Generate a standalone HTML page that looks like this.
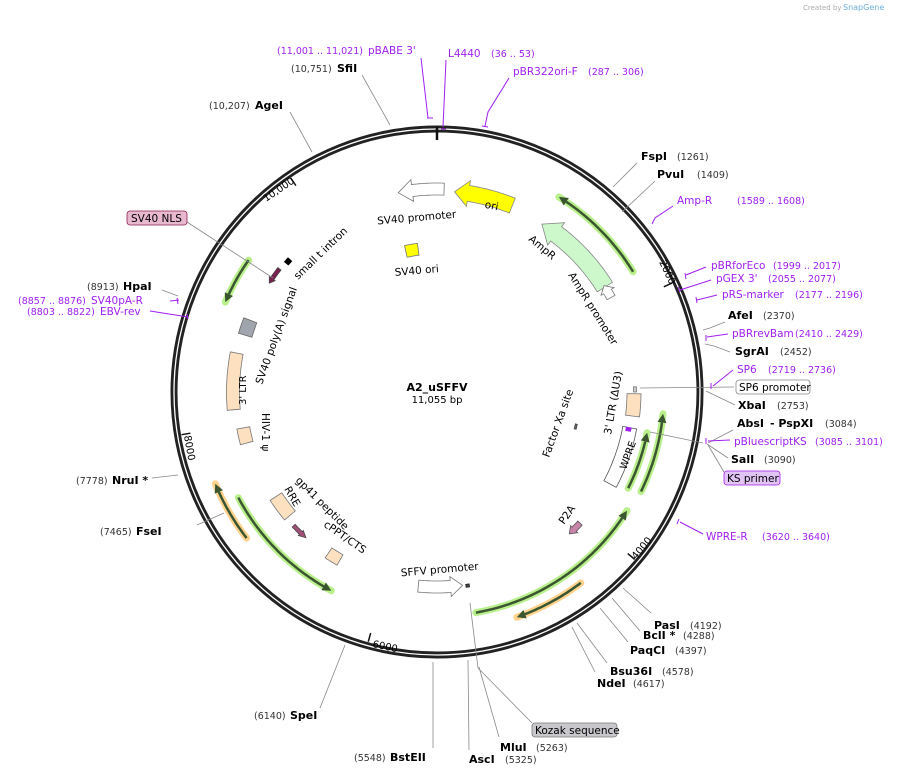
<!DOCTYPE html>
<html><head><meta charset="utf-8"><style>
html,body{margin:0;padding:0;background:#fff}
svg{display:block;font-family:"DejaVu Sans","Liberation Sans",sans-serif}
.b{font-weight:bold;font-size:11px;fill:#000}
.n{font-size:9.5px;fill:#333}
.p{font-size:10.5px;fill:#a020f0}
.pn{font-size:9.5px;fill:#a020f0}
.f{font-size:10.5px;fill:#000}
.ln{stroke:#888;stroke-width:0.8;fill:none}
.lp{stroke:#a020f0;stroke-width:1;fill:none}
</style></head><body>
<svg id="s" width="901" height="776" viewBox="0 0 901 776" xmlns="http://www.w3.org/2000/svg">
<text x="803" y="10" style="font-size:7px;fill:#aaa">Created by</text><text x="843" y="10" style="font-size:8px;fill:#6ab0d8">SnapGene</text>
<g id="shapes"></g>
<circle cx="437" cy="392" r="263" fill="none" stroke="#222" stroke-width="7"/>
<circle cx="437" cy="392" r="263" fill="none" stroke="#fff" stroke-width="1.3"/>
<line x1="437" y1="127" x2="437" y2="140" stroke="#111" stroke-width="2.5"/>
<g id="ticks"></g>
<text x="659" y="262" class="f" transform="rotate(65 659 262)" style="font-size:10px">2000</text>
<text x="636" y="560" class="f" transform="rotate(-50 636 560)" style="font-size:10px">4000</text>
<text x="372" y="647" class="f" transform="rotate(12 372 647)" style="font-size:10px">6000</text>
<text x="184" y="436" class="f" transform="rotate(80 184 436)" style="font-size:10px">8000</text>
<text x="266" y="202" class="f" transform="rotate(-34 266 202)" style="font-size:10px">10,000</text>

<g class="ln">
<line x1="362" y1="75" x2="390" y2="125"/>
<line x1="290" y1="112" x2="312" y2="152"/>
<line x1="637" y1="163" x2="613" y2="187"/>
<line x1="655" y1="181" x2="622" y2="212"/>
<polyline points="725,322 710,328 703,330"/>
<polyline points="730,352 714,346 705,344"/>
<line x1="734" y1="387" x2="640" y2="388"/>
<line x1="735" y1="405" x2="706" y2="391"/>
<line x1="733" y1="430" x2="708" y2="443"/>
<line x1="728" y1="458" x2="707" y2="444"/>
<line x1="724" y1="472" x2="708" y2="445"/>
<line x1="703" y1="443" x2="650" y2="432"/>
<line x1="651" y1="613" x2="623" y2="588"/>
<line x1="640" y1="631" x2="612" y2="598"/>
<line x1="628" y1="642" x2="600" y2="608"/>
<line x1="607" y1="663" x2="577" y2="623"/>
<line x1="595" y1="672" x2="572" y2="627"/>
<polyline points="470,603 478,668 532,723"/>
<line x1="479" y1="667" x2="499" y2="737"/>
<line x1="468" y1="660" x2="469" y2="750"/>
<line x1="433" y1="662" x2="433" y2="748"/>
<line x1="345" y1="645" x2="320" y2="708"/>
<line x1="197" y1="525" x2="224" y2="513"/>
<line x1="152" y1="478" x2="178" y2="475"/>
<line x1="162" y1="290" x2="178" y2="296"/>
<line x1="187" y1="222" x2="273" y2="278"/>
</g>
<g class="lp">
<polyline points="421,58 428,118 430,118"/><line x1="427" y1="118" x2="433" y2="118"/>
<line x1="446" y1="60" x2="443" y2="127"/><line x1="441" y1="129" x2="446" y2="129"/>
<polyline points="509,78 488,112 485,126"/><line x1="482" y1="126" x2="488" y2="127"/>
<polyline points="673,206 655,218 652,224"/>
<line x1="706" y1="267" x2="686" y2="275"/><line x1="685" y1="273" x2="686" y2="279"/>
<line x1="711" y1="280" x2="680" y2="290"/><line x1="678" y1="287" x2="680" y2="292"/>
<line x1="717" y1="295" x2="697" y2="300"/><line x1="696" y1="297" x2="697" y2="303"/>
<line x1="728" y1="334" x2="707" y2="337"/><line x1="706" y1="335" x2="706" y2="341"/>
<line x1="733" y1="370" x2="713" y2="386"/><line x1="711" y1="383" x2="711" y2="389"/>
<line x1="730" y1="440" x2="708" y2="441"/><line x1="706" y1="438" x2="706" y2="444"/>
<line x1="703" y1="534" x2="680" y2="522"/><line x1="679" y1="519" x2="677" y2="524"/>
<line x1="170" y1="301" x2="179" y2="300"/><line x1="177" y1="298" x2="178" y2="304"/>
<line x1="150" y1="311" x2="188" y2="317"/><line x1="187" y1="314" x2="188" y2="319"/>
</g>

<text x="277" y="54" class="pn">(11,001 .. 11,021)</text><text x="368" y="54" class="p">pBABE 3'</text>
<text x="448" y="57" class="p">L4440</text><text x="491" y="57" class="pn">(36 .. 53)</text>
<text x="513" y="75" class="p">pBR322ori-F</text><text x="588" y="75" class="pn">(287 .. 306)</text>
<text x="291" y="72" class="n">(10,751)</text><text x="337" y="72" class="b">SfiI</text>
<text x="209" y="109" class="n">(10,207)</text><text x="255" y="109" class="b">AgeI</text>
<rect x="127" y="211" width="60" height="14" rx="3" fill="#e8b8cf" stroke="#8a2050" stroke-width="0.8"/>
<text x="131" y="222" style="font-size:10.5px">SV40 NLS</text>
<text x="87" y="290" class="n">(8913)</text><text x="123" y="290" class="b">HpaI</text>
<text x="18" y="304" class="pn">(8857 .. 8876)</text><text x="91" y="304" class="p">SV40pA-R</text>
<text x="27" y="315" class="pn">(8803 .. 8822)</text><text x="100" y="315" class="p">EBV-rev</text>
<text x="76" y="484" class="n">(7778)</text><text x="112" y="484" class="b">NruI *</text>
<text x="100" y="535" class="n">(7465)</text><text x="136" y="535" class="b">FseI</text>
<text x="254" y="719" class="n">(6140)</text><text x="290" y="719" class="b">SpeI</text>
<text x="354" y="761" class="n">(5548)</text><text x="390" y="761" class="b">BstEII</text>
<text x="469" y="763" class="b">AscI</text><text x="505" y="763" class="n">(5325)</text>
<text x="500" y="751" class="b">MluI</text><text x="536" y="751" class="n">(5263)</text>
<rect x="532" y="723" width="85" height="14" rx="3" fill="#c8c8cc" stroke="#777" stroke-width="0.8"/>
<text x="535" y="734" style="font-size:10.5px">Kozak sequence</text>
<text x="597" y="687" class="b">NdeI</text><text x="633" y="687" class="n">(4617)</text>
<text x="610" y="675" class="b">Bsu36I</text><text x="662" y="675" class="n">(4578)</text>
<text x="630" y="654" class="b">PaqCI</text><text x="675" y="654" class="n">(4397)</text>
<text x="643" y="639" class="b">BclI *</text><text x="683" y="639" class="n">(4288)</text>
<text x="654" y="629" class="b">PasI</text><text x="690" y="629" class="n">(4192)</text>
<text x="706" y="540" class="p">WPRE-R</text><text x="762" y="540" class="pn">(3620 .. 3640)</text>
<rect x="724" y="471" width="56" height="14" rx="3" fill="#e2c4f4" stroke="#a020f0" stroke-width="0.8"/>
<text x="727" y="482" style="font-size:10.5px">KS primer</text>
<text x="731" y="463" class="b">SalI</text><text x="764" y="463" class="n">(3090)</text>
<text x="734" y="445" class="p">pBluescriptKS</text><text x="815" y="445" class="pn">(3085 .. 3101)</text>
<text x="737" y="427" class="b">AbsI</text><text x="770" y="427" class="b">- PspXI</text><text x="825" y="427" class="n">(3084)</text>
<text x="738" y="409" class="b">XbaI</text><text x="777" y="409" class="n">(2753)</text>
<rect x="736" y="380" width="74" height="14" rx="3" fill="#fff" stroke="#888" stroke-width="0.8"/>
<text x="739" y="391" style="font-size:10.5px">SP6 promoter</text>
<text x="737" y="373" class="p">SP6</text><text x="768" y="373" class="pn">(2719 .. 2736)</text>
<text x="735" y="355" class="b">SgrAI</text><text x="780" y="355" class="n">(2452)</text>
<text x="732" y="337" class="p">pBRrevBam</text><text x="795" y="337" class="pn">(2410 .. 2429)</text>
<text x="728" y="319" class="b">AfeI</text><text x="763" y="319" class="n">(2370)</text>
<text x="722" y="298" class="p">pRS-marker</text><text x="795" y="298" class="pn">(2177 .. 2196)</text>
<text x="716" y="282" class="p">pGEX 3'</text><text x="768" y="282" class="pn">(2055 .. 2077)</text>
<text x="711" y="269" class="p">pBRforEco</text><text x="773" y="269" class="pn">(1999 .. 2017)</text>
<text x="677" y="204" class="p">Amp-R</text><text x="737" y="204" class="pn">(1589 .. 1608)</text>
<text x="657" y="178" class="b">PvuI</text><text x="697" y="178" class="n">(1409)</text>
<text x="641" y="160" class="b">FspI</text><text x="677" y="160" class="n">(1261)</text>

<text x="437" y="391" text-anchor="middle" style="font-size:11px;font-weight:bold">A2_uSFFV</text>
<text x="437" y="403" text-anchor="middle" style="font-size:10px">11,055 bp</text>
<text x="417" y="221" text-anchor="middle" class="f" transform="rotate(-5 417 221)">SV40 promoter</text>
<text x="417" y="274" text-anchor="middle" class="f" transform="rotate(-5 417 274)">SV40 ori</text>
<text x="491" y="209" text-anchor="middle" class="f" transform="rotate(12 491 209)">ori</text>
<text x="528" y="240" class="f" transform="rotate(40 528 240)">AmpR</text>
<text x="568" y="275" class="f" transform="rotate(58 568 275)">AmpR promoter</text>
<text x="298" y="280" class="f" transform="rotate(-44 298 280)">small t intron</text>
<text x="262" y="385" class="f" transform="rotate(-70 262 385)">SV40 poly(A) signal</text>
<text x="246" y="405" class="f" transform="rotate(-90 246 405)" style="font-size:10px">3' LTR</text>
<text x="262" y="413" class="f" transform="rotate(90 262 413)">HIV-1 ψ</text>
<text x="284" y="489" class="f" transform="rotate(60 284 489)">RRE</text>
<text x="295" y="481" class="f" transform="rotate(45 295 481)">gp41 peptide</text>
<text x="323" y="526" class="f" transform="rotate(35 323 526)">cPPT/CTS</text>
<text x="440" y="573" text-anchor="middle" class="f" transform="rotate(-5 440 573)">SFFV promoter</text>
<text x="564" y="525" class="f" transform="rotate(-55 564 525)">P2A</text>
<text x="626" y="470" class="f" transform="rotate(-70 626 470)" style="font-size:10px">WPRE</text>
<text x="549" y="458" class="f" transform="rotate(-70 549 458)">Factor Xa site</text>
<text x="611" y="435" class="f" transform="rotate(-80 611 435)">3' LTR (ΔU3)</text>
</svg>
<script>
(function(){
var cx=437,cy=392,NS="http://www.w3.org/2000/svg",g=document.getElementById("shapes");
function P(r,a){a=a*Math.PI/180;return [cx+r*Math.sin(a),cy-r*Math.cos(a)];}
function arc(r,a1,a2){var n=Math.max(2,Math.ceil(Math.abs(a2-a1)*2)),o=[];for(var i=0;i<=n;i++)o.push(P(r,a1+(a2-a1)*i/n));return o;}
function el(t,at){var e=document.createElementNS(NS,t);for(var k in at)e.setAttribute(k,at[k]);g.appendChild(e);return e;}
function pts(a){return a.map(function(p){return p[0].toFixed(1)+","+p[1].toFixed(1)}).join(" ");}
function band(r,w,a1,a2,fill,stroke){var o=arc(r+w/2,a1,a2).concat(arc(r-w/2,a2,a1));el("polygon",{points:pts(o),fill:fill,stroke:stroke,"stroke-width":0.8});}
function arrow(r,w,a1,a2,hl,hw,fill,stroke){var s=a2>a1?1:-1,ab=a2-s*hl;
 var o=arc(r+w/2,a1,ab);o.push(P(r+w/2+hw,ab));o.push(P(r,a2));o.push(P(r-w/2-hw,ab));o=o.concat(arc(r-w/2,ab,a1));
 el("polygon",{points:pts(o),fill:fill,stroke:stroke,"stroke-width":0.8});}
function larrow(r,a1,a2,glow){var s=a2>a1?1:-1,hl=2.2*230/r,ab=a2-s*hl;
 var o=arc(r,a1,a2);
 el("polyline",{points:pts(o),fill:"none",stroke:glow,"stroke-width":7,"stroke-linecap":"round"});
 el("polyline",{points:pts(arc(r,a1,ab)),fill:"none",stroke:"#3a5530","stroke-width":2.5});
 el("polygon",{points:pts([P(r+4.5,ab),P(r,a2),P(r-4.5,ab)]),fill:"#3a5530"});}
arrow(201,16,22,5,4,5,"#ffff00","#888");
arrow(203,12,2,-11,4,5,"#fff","#777");
band(144,12,-7.5,-12.5,"#ffff00","#777");
arrow(198,18,58,32,5,5,"#ccf8cc","#888");
arrow(198,9,61.5,57.5,2,3,"#fff","#777");
larrow(230,58.5,32,"#b9f08c");
larrow(230,-55,-67,"#b9f08c");
larrow(225,-118,-152,"#b9f08c");
larrow(240,-127.5,-112.5,"#ffd38e");
larrow(224,170,122,"#b9f08c");
larrow(239,143,160.5,"#ffd38e");
larrow(227,116,95.5,"#b9f08c");
larrow(214,116.7,101,"#b9f08c");
band(204,13,-79,-95,"#fde0c0","#777");
band(197,13,-100.5,-105,"#fde0c0","#777");
band(200,14,-69,-73.5,"#a0a4ac","#666");
band(192,14,-123,-130,"#fde0c0","#777");
band(194,12,-146,-150,"#fde0c0","#777");
band(197,14,90.5,97,"#fde0c0","#777");
band(196,14,100.5,118,"#fff","#555");
arrow(195,12,185.5,172.5,3.5,4,"#fff","#777");
arrow(194,6,132.5,137,2,2,"#c884a8","#555");
arrow(196,4,-133,-138,2,1.5,"#a05078","#444");
arrow(200,4,-52,-57,1.5,1.5,"#7a2050","#444");
band(198,3,88.5,90,"#ccc","#777");
band(196,3,170.5,171.5,"#444","#222");
band(143,2,103,105,"#666","#444");
band(198,5,-48,-49.5,"#000","#000");
band(195,5,100.5,101.5,"#a020f0","#a020f0");
[2000,4000,6000,8000,10000].forEach(function(v){var a=v/11055*360,p1=P(259,a),p2=P(250,a);
 el("line",{x1:p1[0],y1:p1[1],x2:p2[0],y2:p2[1],stroke:"#111","stroke-width":1.5});});
})();
</script>
</body></html>
